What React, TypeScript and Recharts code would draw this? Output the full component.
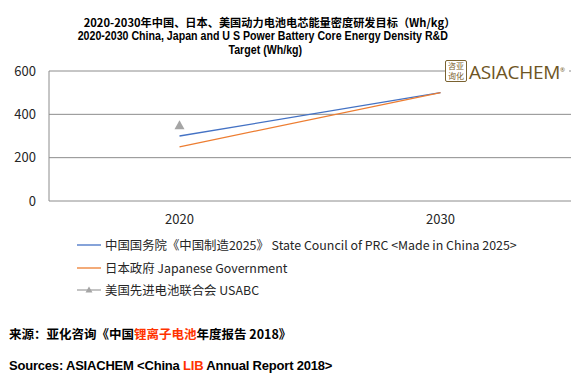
import { CartesianGrid, Line, LineChart, XAxis, YAxis } from "recharts";

const years = ["2020", "2030"];
const chinaTarget = [300, 500];
const japanTarget = [250, 500];
const usabcTarget = [350, null];
const yTicks = [0, 200, 400, 600];

const seriesNames = {
  china: "中国国务院《中国制造2025》 State Council of PRC <Made in China 2025>",
  japan: "日本政府 Japanese Government",
  usabc: "美国先进电池联合会 USABC",
};

const data = years.map((year, i) => ({
  year,
  china: chinaTarget[i],
  japan: japanTarget[i],
  usabc: usabcTarget[i],
}));

const BLUE = "#4472c4";
const ORANGE = "#ed7d31";
const GRAY = "#a5a5a5";
const GRID = "#8c8c8c";
const TEXT = "#262626";

const LEGEND_FONT = "'Noto Sans CJK SC', 'Noto Sans', sans-serif";
const TITLE_FONT = "'Liberation Sans', 'Noto Sans CJK SC', sans-serif";

function Triangle({ cx, cy }: { cx?: number; cy?: number }) {
  if (cx == null || cy == null) return null;
  return <path d={`M${cx},${cy - 5} L${cx + 5},${cy + 4} L${cx - 5},${cy + 4} Z`} fill={GRAY} />;
}

function LegendBox() {
  const rows = [
    { key: "china", color: BLUE, marker: false },
    { key: "japan", color: ORANGE, marker: false },
    { key: "usabc", color: GRAY, marker: true },
  ] as const;
  return (
    <div style={{ fontFamily: LEGEND_FONT, fontSize: 12.4, color: TEXT }}>
      {rows.map((r) => (
        <div key={r.key} style={{ display: "flex", alignItems: "center", height: 22.5 }}>
          <svg width={24} height={10} style={{ marginRight: 4 }}>
            <line x1={0} y1={5} x2={24} y2={5} stroke={r.color} strokeWidth={1.3} />
            {r.marker && <path d="M12,1.5 L15.5,7.5 L8.5,7.5 Z" fill={GRAY} />}
          </svg>
          <span>{seriesNames[r.key]}</span>
        </div>
      ))}
    </div>
  );
}

const narrow = { display: "inline-block", transform: "scaleX(0.85)", transformOrigin: "center" } as const;

export default function App() {
  return (
    <div style={{ position: "relative", width: 585, height: 387, margin: -8, background: "#fff" }}>
      <div
        style={{
          position: "absolute",
          top: 14,
          left: 0,
          width: 585,
          textAlign: "center",
          fontFamily: TITLE_FONT,
          fontWeight: "bold",
          fontSize: 12.5,
          lineHeight: "14.5px",
          color: "#000",
        }}
      >
        <div style={{ fontFamily: "'Noto Sans CJK SC', sans-serif", fontSize: 11.2, marginLeft: -46, paddingTop: 1 }}>
          2020-2030年中国、日本、美国动力电池电芯能量密度研发目标（Wh/kg）
        </div>
        <div style={{ marginLeft: -60, marginTop: -1 }}>
          <span style={narrow}>2020-2030 China, Japan and U S Power Battery Core Energy Density R&amp;D</span>
        </div>
        <div style={{ marginLeft: -55 }}>
          <span style={narrow}>Target (Wh/kg)</span>
        </div>
      </div>

      <LineChart
        width={585}
        height={387}
        data={data}
        margin={{ top: 71, right: 14, left: 10, bottom: 156 }}
      >
        <CartesianGrid vertical={false} stroke={GRID} strokeWidth={1} />
        <XAxis
          dataKey="year"
          axisLine={false}
          tickLine={false}
          height={30}
          padding={{ left: 130.5, right: 130.5 }}
          tick={{ fill: TEXT, fontSize: 13, fontFamily: LEGEND_FONT }}
          tickMargin={8}
        />
        <YAxis
          domain={[0, 600]}
          ticks={yTicks}
          interval={0}
          width={39}
          axisLine={{ stroke: GRID }}
          tickLine={false}
          tick={{ fill: TEXT, fontSize: 13, fontFamily: LEGEND_FONT }}
          tickMargin={7}
        />
        <Line dataKey="china" stroke={BLUE} strokeWidth={1.3} dot={false} isAnimationActive={false} />
        <Line dataKey="japan" stroke={ORANGE} strokeWidth={1.3} dot={false} isAnimationActive={false} />
        <Line
          dataKey="usabc"
          stroke={GRAY}
          strokeWidth={1.3}
          dot={<Triangle />}
          activeDot={false}
          isAnimationActive={false}
        />
      </LineChart>

      <div style={{ position: "absolute", left: 77, top: 234, width: 480 }}>
        <LegendBox />
      </div>

      <div
        style={{
          position: "absolute",
          left: 445,
          top: 59,
          display: "flex",
          alignItems: "center",
          background: "#fff",
          paddingRight: 4,
        }}
      >
        <div
          style={{
            width: 20,
            height: 20,
            border: "1.5px solid #7a6230",
            borderRadius: 2,
            fontFamily: "'Noto Sans CJK SC', sans-serif",
            fontSize: 8,
            lineHeight: "10px",
            color: "#7a6230",
            textAlign: "center",
          }}
        >
          咨亚
          <br />
          询化
        </div>
        <span
          style={{
            fontFamily: "'Open Sans', 'Liberation Sans', sans-serif",
            fontSize: 19,
            color: "#6e5524",
            marginLeft: 2,
            letterSpacing: -0.3,
            lineHeight: "22px",
          }}
        >
          ASIACHEM
          <sup style={{ fontSize: 6 }}>®</sup>
        </span>
      </div>

      <div
        style={{
          position: "absolute",
          left: 9,
          top: 324,
          fontFamily: "'Noto Sans CJK SC', sans-serif",
          fontWeight: "bold",
          fontSize: 12.5,
          color: "#000",
        }}
      >
        来源：亚化咨询《中国<span style={{ color: "#ff3300" }}>锂离子电池</span>年度报告 2018》
      </div>
      <div
        style={{
          position: "absolute",
          left: 9,
          top: 358,
          fontFamily: "'Liberation Sans', sans-serif",
          fontWeight: "bold",
          fontSize: 13,
          letterSpacing: -0.2,
          color: "#000",
        }}
      >
        Sources: ASIACHEM &lt;China <span style={{ color: "#ff3300" }}>LIB</span> Annual Report 2018&gt;
      </div>
    </div>
  );
}
